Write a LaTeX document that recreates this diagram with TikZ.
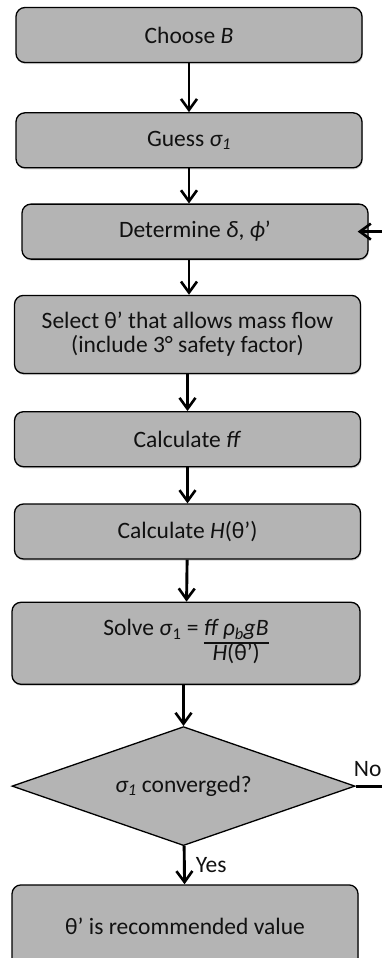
\documentclass[tikz,border=0pt]{standalone}
\usepackage{fontspec}
\setmainfont{Carlito}
\usetikzlibrary{shapes.geometric,positioning,arrows.meta,shadows}
\definecolor{boxGray}{HTML}{B4B4B4}
\definecolor{inkDark}{HTML}{111111}
\newcommand{\flowfont}{\fontsize{23.5}{24}\selectfont}
\tikzset{
  block/.style={rectangle,rounded corners=9pt,draw=black,line width=1.3pt,fill=boxGray,
    drop shadow={opacity=0.35,shadow xshift=0.8pt,shadow yshift=-1.6pt},
    minimum width=346pt,minimum height=55pt,align=center,text=inkDark,font=\flowfont,inner sep=0pt},
  tallblock/.style={block,minimum height=80pt},
  decision/.style={diamond,draw=black,line width=1.3pt,fill=boxGray,aspect=2.88,
    minimum width=343pt,minimum height=119pt,inner sep=0pt,text=inkDark,font=\flowfont},
  arrow/.style={-{Straight Barb[length=11pt,width=16pt,line width=2.6pt]},line width=2.9pt},
  flowlabel/.style={text=inkDark,font=\flowfont,inner sep=0pt}
}

\begin{document}
\begin{tikzpicture}[x=1pt,y=1pt]
\useasboundingbox (0,0) rectangle (382,-958);
\node[block] (choose) at (189,-35) {Choose \textit{B}};
\node[block, below=49pt of choose] (guess) {Guess \textit{σ\textsubscript{1}}};
\node[block, below=35pt of guess, xshift=6pt] (determine) {Determine \textit{δ}, \textit{ϕ}’};
\node[tallblock, below=35pt of determine, xshift=-7.5pt, minimum height=78pt] (select)
  {Select θ’ that allows mass flow\\(include 3° safety factor)};
\node[block, below=37pt of select] (ff) {Calculate \textit{ff}};
\node[block, below=36pt of ff] (height) {Calculate \textit{H}(θ’)};
\node[tallblock, below=42pt of height, xshift=-1.5pt, minimum width=348pt, minimum height=82pt] (solve)
  {\setlength{\arrayrulewidth}{2.2pt}Solve \textit{σ}\textsubscript{1} = \begin{tabular}[t]{@{}c@{}}\textit{ff ρ\textsubscript{b}gB}\\[-1pt]\hline
  \textit{H}(θ’)\end{tabular}};
\node[decision, below=41pt of solve, xshift=-2.5pt] (converged) {\textit{σ\textsubscript{1}} converged?};
\node[tallblock, below=38pt of converged, xshift=1.5pt, minimum height=82pt] (result) {θ’ is recommended value};

\draw[arrow] (choose) -- (guess);
\draw[arrow] (guess) -- (guess |- determine.north);
\draw[arrow] (determine.south -| guess) -- (guess |- select.north);
\draw[arrow] (select) -- (ff);
\draw[arrow] (ff) -- (height);
\draw[arrow] (height) -- (solve);
\draw[arrow] (solve.south -| converged.north) -- (converged.north);
\draw[arrow] (converged) -- (result) node[flowlabel, midway, right=10pt] (yes) {Yes};

% feedback loop, runs off the right edge
\begin{scope}
\clip (0,0) rectangle (382,-958);
\coordinate[right=45pt of converged.east] (loopbot);
\coordinate[left=11pt of determine.east] (loopin);
\draw[arrow] (converged.east) -- (loopbot) |- (loopin);
\node[flowlabel, anchor=south west, xshift=-2pt, yshift=9pt] (no) at (converged.east) {No};
\end{scope}
\end{tikzpicture}
\end{document}
